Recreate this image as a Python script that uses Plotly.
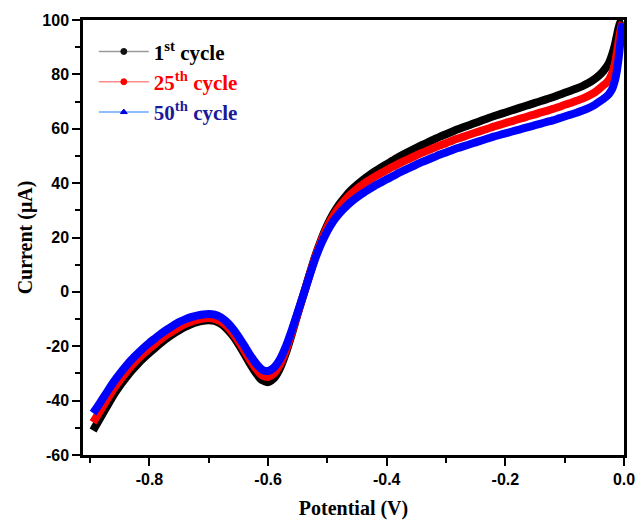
import plotly.graph_objects as go

# Applied potential (V) shared by all three cycles
potential = [
    -0.895, -0.89, -0.88, -0.87, -0.86, -0.85, -0.84, -0.83, -0.82, -0.81,
    -0.80, -0.79, -0.78, -0.77, -0.76, -0.75, -0.74, -0.73, -0.72, -0.71,
    -0.70, -0.69, -0.68, -0.67, -0.66, -0.65, -0.64, -0.63, -0.62, -0.61,
    -0.60, -0.59, -0.58, -0.57, -0.56, -0.55, -0.54, -0.53, -0.52, -0.51,
    -0.50, -0.49, -0.48, -0.47, -0.46, -0.45, -0.44, -0.43, -0.42, -0.41,
    -0.40, -0.39, -0.38, -0.37, -0.36, -0.35, -0.34, -0.33, -0.32, -0.31,
    -0.30, -0.29, -0.28, -0.27, -0.26, -0.25, -0.24, -0.23, -0.22, -0.21,
    -0.20, -0.19, -0.18, -0.17, -0.16, -0.15, -0.14, -0.13, -0.12, -0.11,
    -0.10, -0.09, -0.08, -0.07, -0.06, -0.05, -0.04, -0.03, -0.025, -0.02,
    -0.015, -0.012, -0.009, -0.006, -0.004, -0.002,
]

# Current (uA) for each cycle
cycle_1 = [
    -51.0, -49.1, -45.3, -41.5, -37.8, -34.6, -31.7, -29.0, -26.6, -24.4,
    -22.4, -20.5, -18.7, -17.0, -15.5, -14.1, -12.9, -11.9, -11.1, -10.6,
    -10.4, -10.7, -11.7, -13.5, -16.0, -19.2, -22.8, -26.6, -30.0, -32.5,
    -33.2, -31.8, -28.2, -22.5, -15.5, -8.0, -0.8, 6.5, 13.5, 19.5,
    24.6, 28.8, 32.2, 35.0, 37.4, 39.4, 41.2, 42.8, 44.3, 45.7,
    47.0, 48.3, 49.6, 50.8, 51.9, 53.0, 54.1, 55.1, 56.1, 57.1,
    58.0, 58.9, 59.8, 60.6, 61.4, 62.2, 63.0, 63.8, 64.6, 65.3,
    66.0, 66.7, 67.4, 68.1, 68.8, 69.5, 70.2, 70.9, 71.6, 72.4,
    73.2, 74.0, 74.8, 75.7, 76.8, 78.2, 80.0, 82.6, 84.4, 87.3,
    91.2, 94.3, 97.2, 99.2, 99.8, 100.0,
]
cycle_25 = [
    -48.0, -46.2, -42.6, -39.0, -35.5, -32.5, -29.7, -27.1, -24.8, -22.7,
    -20.8, -19.0, -17.3, -15.7, -14.3, -13.0, -11.9, -11.0, -10.3, -9.8,
    -9.6, -9.9, -10.8, -12.5, -15.0, -18.1, -21.6, -25.2, -28.4, -30.7,
    -31.3, -30.0, -26.7, -21.5, -14.9, -7.8, -0.8, 6.3, 13.2, 19.0,
    24.0, 28.0, 31.2, 33.8, 36.1, 37.9, 39.6, 41.0, 42.4, 43.6,
    44.8, 46.0, 47.1, 48.2, 49.2, 50.2, 51.2, 52.1, 53.0, 53.9,
    54.7, 55.6, 56.4, 57.1, 57.9, 58.6, 59.3, 60.0, 60.8, 61.4,
    62.1, 62.7, 63.4, 64.0, 64.7, 65.3, 66.0, 66.6, 67.3, 68.0,
    68.8, 69.5, 70.3, 71.1, 72.1, 73.3, 75.0, 76.8, 78.2, 80.4,
    84.2, 88.0, 92.2, 96.0, 98.0, 99.0,
]
cycle_50 = [
    -44.6, -43.0, -39.7, -36.3, -33.0, -30.1, -27.4, -24.9, -22.7, -20.6,
    -18.7, -17.0, -15.3, -13.8, -12.4, -11.1, -10.1, -9.3, -8.7, -8.3,
    -8.1, -8.4, -9.3, -11.0, -13.4, -16.4, -19.8, -23.3, -26.4, -28.6,
    -29.1, -27.8, -24.8, -20.0, -14.0, -7.4, -0.8, 6.0, 12.5, 17.9,
    22.4, 26.0, 28.8, 31.1, 33.1, 34.8, 36.3, 37.7, 39.0, 40.2,
    41.4, 42.5, 43.7, 44.8, 45.8, 46.8, 47.8, 48.7, 49.6, 50.5,
    51.3, 52.1, 52.9, 53.6, 54.3, 55.0, 55.7, 56.4, 57.1, 57.7,
    58.3, 58.9, 59.5, 60.1, 60.7, 61.3, 61.9, 62.5, 63.1, 63.8,
    64.5, 65.2, 65.9, 66.7, 67.6, 68.7, 70.2, 71.8, 72.9, 74.6,
    78.0, 81.3, 86.0, 92.0, 96.0, 98.8,
]

series_names = [
    "<span style='color:#000000'>1<sup>st</sup> cycle</span>",
    "<span style='color:#ff0000'>25<sup>th</sup> cycle</span>",
    "<span style='color:#1a1a99'>50<sup>th</sup> cycle</span>",
]
x_tick_vals = [-0.8, -0.6, -0.4, -0.2, 0.0]
x_tick_text = ["-0.8", "-0.6", "-0.4", "-0.2", "0.0"]
x_minor_vals = [-0.9, -0.7, -0.5, -0.3, -0.1]
y_tick_vals = [-60, -40, -20, 0, 20, 40, 60, 80, 100]
y_tick_text = ["-60", "-40", "-20", "0", "20", "40", "60", "80", "100"]
y_minor_vals = [-50, -30, -10, 10, 30, 50, 70, 90]

band_colors = ["#000000", "#ff0000", "#0000ff"]
legend_line_colors = ["#9a9a9a", "#ff8a8a", "#6aa8ff"]
legend_marker_colors = ["#111111", "#ff0000", "#0000dd"]
legend_symbols = ["circle-dot", "circle", "triangle-up"]

fig = go.Figure()

# Dense measured curves drawn as thick bands
for ys, col in zip([cycle_1, cycle_25, cycle_50], band_colors):
    fig.add_trace(go.Scatter(
        x=potential, y=ys, mode="lines",
        line=dict(color=col, width=8, shape="spline", smoothing=0.6),
        showlegend=False, hoverinfo="skip",
    ))

# Legend entries: thin light line with a small marker
for name, lc, mc, sym in zip(series_names, legend_line_colors,
                             legend_marker_colors, legend_symbols):
    fig.add_trace(go.Scatter(
        x=[None], y=[None], mode="lines+markers", name=name,
        line=dict(color=lc, width=1.5),
        marker=dict(color=mc, size=6, symbol=sym,
                    line=dict(color=mc, width=1)),
    ))

axis_common = dict(
    showline=True, linecolor="black", linewidth=2.5, mirror=True,
    ticks="outside", ticklen=8, tickwidth=2, tickcolor="black",
    showgrid=False, zeroline=False, automargin=False,
    ticklabeloverflow="allow",
    tickfont=dict(family="Liberation Sans", size=16, color="black", weight="bold"),
)

fig.update_layout(
    width=635, height=522,
    margin=dict(l=83, r=11, t=20, b=67),
    paper_bgcolor="white", plot_bgcolor="white",
    xaxis=dict(
        range=[-0.912, 0.0], tickmode="array",
        tickvals=x_tick_vals, ticktext=x_tick_text,
        minor=dict(tickmode="array", tickvals=x_minor_vals, ticks="outside",
                   ticklen=5, tickwidth=2, tickcolor="black"),
        title=dict(text="Potential (V)", standoff=15,
                   font=dict(family="Liberation Serif", size=20,
                             color="black", weight="bold")),
        **axis_common,
    ),
    yaxis=dict(
        range=[-60, 100], tickmode="array",
        tickvals=y_tick_vals, ticktext=y_tick_text,
        minor=dict(tickmode="array", tickvals=y_minor_vals, ticks="outside",
                   ticklen=5, tickwidth=2, tickcolor="black"),
        title=dict(text="Current (μA)", standoff=5,
                   font=dict(family="Liberation Serif", size=20,
                             color="black", weight="bold")),
        **axis_common,
    ),
    legend=dict(
        x=0.02, y=0.974, xanchor="left", yanchor="top",
        bgcolor="rgba(0,0,0,0)", borderwidth=0, itemwidth=50,
        font=dict(family="Liberation Serif", size=21, color="black",
                  weight="bold"),
        tracegroupgap=0,
    ),
)

fig.write_html("out.html")
